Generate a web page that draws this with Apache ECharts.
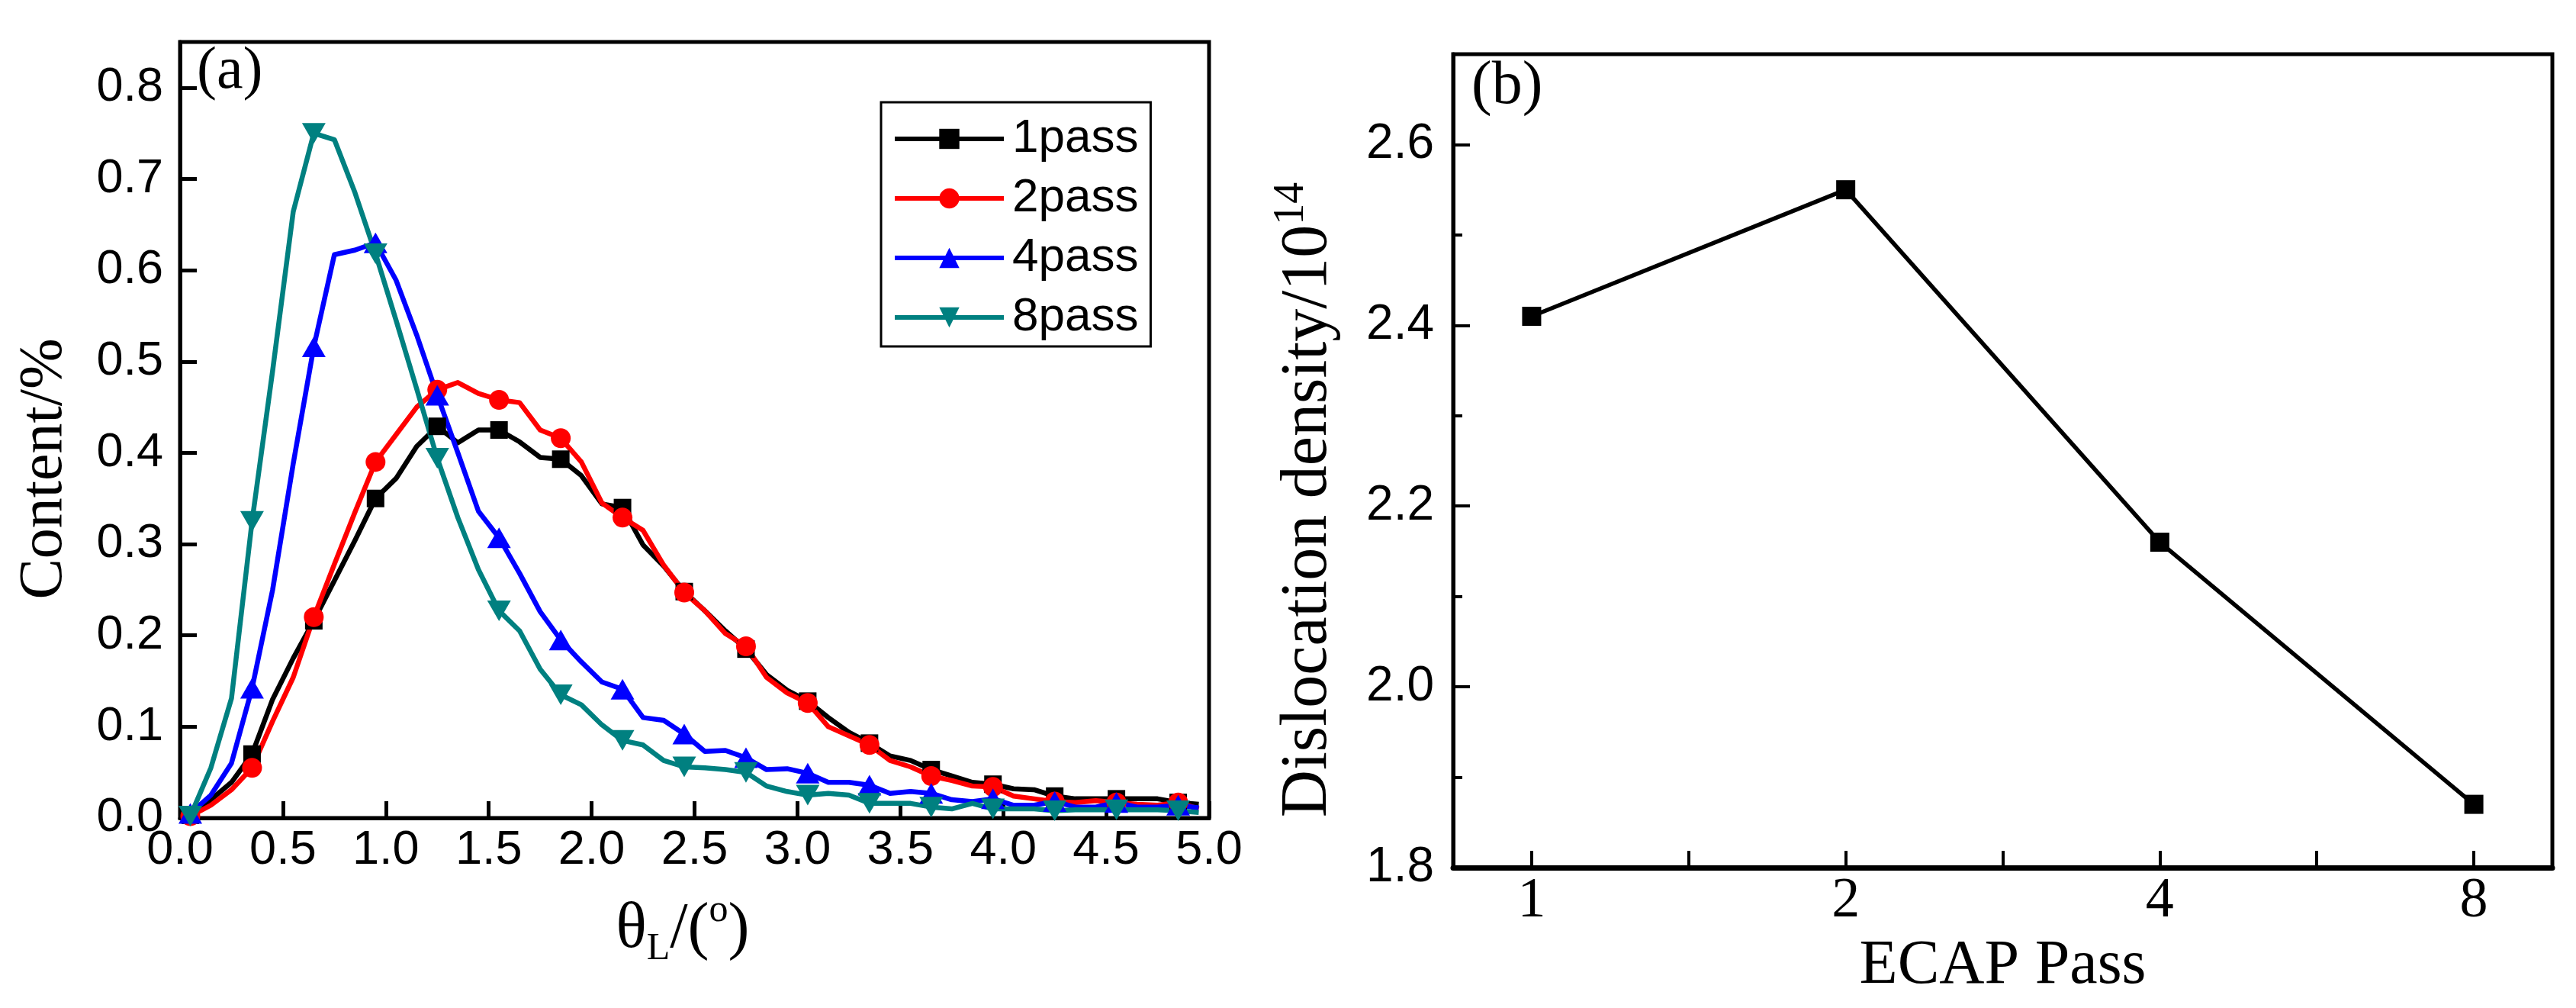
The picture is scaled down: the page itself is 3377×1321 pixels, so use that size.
<!DOCTYPE html>
<html><head><meta charset="utf-8">
<script src="https://cdn.jsdelivr.net/npm/echarts@6/dist/echarts.min.js"></script>
<style>html,body{margin:0;padding:0;background:#fff}#c{width:3377px;height:1321px}</style>
</head><body><div id="c"></div>
<script>
// ---- Panel (a) data ----
const theta = [0.05,0.15,0.25,0.35,0.45,0.55,0.65,0.75,0.85,0.95,
  1.05,1.15,1.25,1.35,1.45,1.55,1.65,1.75,1.85,1.95,
  2.05,2.15,2.25,2.35,2.45,2.55,2.65,2.75,2.85,2.95,
  3.05,3.15,3.25,3.35,3.45,3.55,3.65,3.75,3.85,3.95,
  4.05,4.15,4.25,4.35,4.45,4.55,4.65,4.75,4.85,4.95];
const pass1 = [0.003,0.020,0.039,0.070,0.130,0.175,0.216,0.260,0.304,0.350,
  0.372,0.407,0.429,0.411,0.425,0.425,0.412,0.395,0.393,0.375,
  0.344,0.340,0.299,0.276,0.248,0.227,0.205,0.185,0.157,0.140,
  0.128,0.110,0.094,0.082,0.068,0.063,0.053,0.046,0.039,0.037,
  0.032,0.031,0.024,0.021,0.021,0.021,0.021,0.021,0.017,0.015];
const pass2 = [0.002,0.014,0.031,0.055,0.106,0.154,0.220,0.278,0.335,0.390,
  0.420,0.450,0.469,0.477,0.465,0.458,0.455,0.425,0.416,0.390,
  0.345,0.329,0.315,0.277,0.247,0.227,0.202,0.188,0.154,0.137,
  0.126,0.100,0.090,0.080,0.063,0.056,0.046,0.041,0.035,0.034,
  0.024,0.021,0.018,0.017,0.019,0.017,0.015,0.014,0.017,0.010];
const pass4 = [0.005,0.025,0.060,0.142,0.250,0.388,0.516,0.617,0.622,0.630,
  0.589,0.529,0.463,0.400,0.336,0.307,0.268,0.226,0.195,0.171,
  0.149,0.141,0.110,0.107,0.092,0.073,0.074,0.066,0.053,0.054,
  0.049,0.039,0.039,0.036,0.027,0.029,0.027,0.020,0.018,0.021,
  0.014,0.014,0.018,0.012,0.012,0.017,0.012,0.012,0.014,0.011];
const pass8 = [0.002,0.055,0.131,0.325,0.490,0.664,0.750,0.743,0.685,0.618,
  0.545,0.470,0.394,0.329,0.272,0.227,0.205,0.163,0.135,0.124,
  0.102,0.085,0.080,0.063,0.056,0.055,0.053,0.050,0.035,0.029,
  0.025,0.027,0.025,0.016,0.016,0.016,0.012,0.010,0.016,0.010,
  0.010,0.010,0.008,0.009,0.009,0.009,0.009,0.009,0.008,0.006];
const seriesNames = ['1pass','2pass','4pass','8pass'];

// ---- Panel (b) data ----
const ecapLabels = ['1','2','4','8'];
const ecapPos = [1,2,3,4];
const density = [2.41,2.55,2.16,1.87];

const SANS = 'Liberation Sans';
const SERIF = 'Liberation Serif';

function mkA(name, vals, color, symbol, size, rotate) {
  return {
    type: 'line', name: name, xAxisIndex: 0, yAxisIndex: 0,
    data: vals.map(function (v, i) {
      return i % 3 === 0 ? {value: [theta[i], v]} : {value: [theta[i], v], symbol: 'none'};
    }),
    symbol: symbol, symbolSize: size, symbolRotate: rotate || 0, showSymbol: true,
    lineStyle: {color: color, width: 6.5, join: 'round'},
    itemStyle: {color: color},
    color: color, animation: false, silent: true
  };
}

const chart = echarts.init(document.getElementById('c'), null, {renderer: 'canvas'});
chart.setOption({
  backgroundColor: '#fff',
  animation: false,
  grid: [
    {left: 236, top: 55, width: 1349, height: 1017, show: true, borderColor: '#000', borderWidth: 5, containLabel: false},
    {left: 1905, top: 71, width: 1441, height: 1066, show: true, borderColor: '#000', borderWidth: 5, containLabel: false}
  ],
  legend: {
    show: true, orient: 'vertical', left: 1155, top: 134,
    data: seriesNames, itemWidth: 143, itemHeight: 33, itemGap: 16,
    padding: [17, 16, 7, 15], borderColor: '#000', borderWidth: 3,
    selectedMode: false,
    lineStyle: {width: 6},
    textStyle: {fontSize: 62, fontFamily: SANS, color: '#000', lineHeight: 62, padding: [0, 0, 0, 6]}
  },
  xAxis: [
    {
      gridIndex: 0, type: 'value', min: 0, max: 5, interval: 0.5,
      axisLine: {lineStyle: {color: '#000', width: 5}},
      axisTick: {inside: true, length: 22, lineStyle: {color: '#000', width: 5}},
      axisLabel: {margin: 11, fontSize: 63, fontFamily: SANS, color: '#000', formatter: function (v) { return v.toFixed(1); }},
      splitLine: {show: false},
      name: '{t|θ}{s|L}{t|/(}{p|o}{t|)}', nameLocation: 'middle', nameGap: 97,
      nameTextStyle: {
        padding: [0, 31, 0, 0],
        rich: {
          t: {fontSize: 84, fontFamily: SERIF, color: '#000', lineHeight: 100},
          s: {fontSize: 50, fontFamily: SERIF, color: '#000', lineHeight: 30, verticalAlign: 'bottom'},
          p: {fontSize: 50, fontFamily: SERIF, color: '#000', lineHeight: 30, verticalAlign: 'top'}
        }
      }
    },
    {
      gridIndex: 1, type: 'value', min: 0.75, max: 4.25,
      axisLine: {lineStyle: {color: '#000', width: 7}},
      axisTick: {inside: true, length: 22, customValues: [1, 1.5, 2, 2.5, 3, 3.5, 4], lineStyle: {color: '#000', width: 4}},
      axisLabel: {margin: 8, fontSize: 74, fontFamily: SERIF, color: '#000', customValues: ecapPos,
        formatter: function (v) { const k = ecapPos.indexOf(v); return k >= 0 ? ecapLabels[k] : ''; }},
      splitLine: {show: false},
      name: 'ECAP Pass', nameLocation: 'middle', nameGap: 88,
      nameTextStyle: {fontSize: 82, fontFamily: SERIF, color: '#000', lineHeight: 82}
    }
  ],
  yAxis: [
    {
      gridIndex: 0, type: 'value', min: 0, max: 0.85, interval: 0.1,
      axisLine: {lineStyle: {color: '#000', width: 5}},
      axisTick: {inside: true, length: 22, lineStyle: {color: '#000', width: 5}},
      axisLabel: {margin: 22, fontSize: 63, fontFamily: SANS, color: '#000', showMaxLabel: false,
        formatter: function (v) { return v.toFixed(1); }},
      splitLine: {show: false},
      name: 'Content/%', nameLocation: 'middle', nameGap: 127,
      nameTextStyle: {fontSize: 80, fontFamily: SERIF, color: '#000', lineHeight: 100, padding: [0, 102, 0, 0]}
    },
    {
      gridIndex: 1, type: 'value', min: 1.8, max: 2.7, interval: 0.2, position: 'left',
      axisLine: {lineStyle: {color: '#000', width: 5}},
      axisTick: {inside: true, length: 22, lineStyle: {color: '#000', width: 4}},
      axisLabel: {margin: 25, fontSize: 64, fontFamily: SANS, color: '#000', showMaxLabel: false,
        formatter: function (v) { return v.toFixed(1); }},
      splitLine: {show: false},
      name: '{t|Dislocation density/10}{p|14}', nameLocation: 'middle', nameGap: 140,
      nameTextStyle: {
        padding: [0, 102, 0, 0],
        rich: {
          t: {fontSize: 86, fontFamily: SERIF, color: '#000', lineHeight: 100},
          p: {fontSize: 56, fontFamily: SERIF, color: '#000', lineHeight: 80, verticalAlign: 'top'}
        }
      }
    },
    {
      gridIndex: 1, type: 'value', min: 1.8, max: 2.7, interval: 0.1, position: 'left', offset: 0,
      axisLine: {show: false},
      axisTick: {inside: true, length: 12, lineStyle: {color: '#000', width: 4}},
      axisLabel: {show: false},
      splitLine: {show: false}
    }
  ],
  graphic: [
    {type: 'text', x: 258, y: 95, silent: true,
      style: {text: '(a)', fontSize: 78, fontFamily: SERIF, fill: '#000', verticalAlign: 'middle', align: 'left'}},
    {type: 'text', x: 1929, y: 114, silent: true,
      style: {text: '(b)', fontSize: 80, fontFamily: SERIF, fill: '#000', verticalAlign: 'middle', align: 'left'}}
  ],
  series: [
    mkA(seriesNames[0], pass1, '#000000', 'rect', 23, 0),
    mkA(seriesNames[1], pass2, '#ff0000', 'circle', 26, 0),
    mkA(seriesNames[2], pass4, '#0000ff', 'triangle', [31, 27], 0),
    mkA(seriesNames[3], pass8, '#008080', 'triangle', [31, 27], 180),
    {
      type: 'line', name: 'density', xAxisIndex: 1, yAxisIndex: 1,
      data: ecapPos.map(function (x, i) { return [x, density[i]]; }),
      symbol: 'rect', symbolSize: 25, showSymbol: true,
      lineStyle: {color: '#000', width: 5.5}, itemStyle: {color: '#000'},
      animation: false, silent: true
    }
  ]
});
</script>
</body></html>
